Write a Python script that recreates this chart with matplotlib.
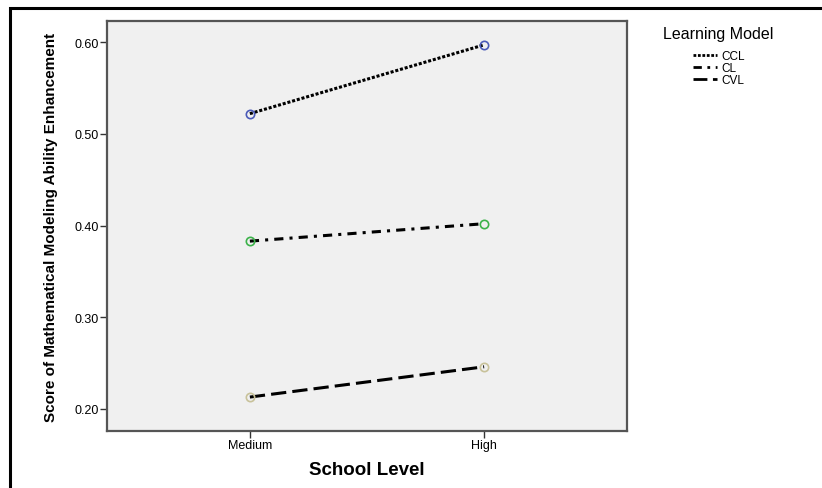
import matplotlib
matplotlib.use("Agg")
import matplotlib.pyplot as plt
from matplotlib.patches import Rectangle
from matplotlib.lines import Line2D

categories = ["Medium", "High"]
models = ["CCL", "CL", "CVL"]
ccl = [0.522, 0.597]
cl = [0.383, 0.402]
cvl = [0.213, 0.246]
yticks = [0.20, 0.30, 0.40, 0.50, 0.60]

series = [ccl, cl, cvl]
styles = [(0, (1, 0.6)), (0, (3, 2, 1, 2)), (0, (5, 2))]
mcolors = ["#4a5ab8", "#3cb24a", "#c8c29a"]

W, H = 822, 489
fig = plt.figure(figsize=(W / 100, H / 100), dpi=100)
fig.patch.set_facecolor("white")

# outer frame
fig.patches.append(Rectangle((10 / W, -0.1), 1.2, 1 - 9 / H + 0.1, transform=fig.transFigure,
                             fill=False, edgecolor="black", lw=2.2, zorder=0))

ax = fig.add_axes([107 / W, 1 - 432 / H, 520 / W, 410 / H])
ax.set_facecolor("#f0f0f0")
x = list(range(len(categories)))
for vals, ls, mc, name in zip(series, styles, mcolors, models):
    ax.plot(x, vals, color="black", lw=2.2, linestyle=ls, zorder=2, label=name)
    ax.plot(x, vals, linestyle="none", marker="o", markersize=6, markerfacecolor="none",
            markeredgecolor=mc, markeredgewidth=1.2, zorder=3)

ax.set_xlim(-0.61, 1.61)
ax.set_ylim(0.176, 0.623)
ax.set_xticks(x)
ax.set_xticklabels(categories, fontsize=9, family="Liberation Sans")
ax.set_yticks(yticks)
ax.set_yticklabels([f"{v:.2f}" for v in yticks], fontsize=9, family="Liberation Sans")
ax.tick_params(length=5, width=1, color="#333333", pad=1)
for s in ax.spines.values():
    s.set_color("#555555")
    s.set_linewidth(1.6)

ax.set_xlabel("School Level", fontsize=13.5, fontweight="bold", family="Liberation Sans", labelpad=7)
ax.set_ylabel("Score of Mathematical Modeling Ability Enhancement", fontsize=11, fontweight="bold",
              family="Liberation Sans", labelpad=12)

fig.text(663 / W, 1 - 34 / H, "Learning Model", fontsize=11.5, family="Liberation Sans",
         va="center", ha="left")
handles = [Line2D([0], [0], color="black", lw=2, linestyle=ls) for ls in styles]
leg = fig.legend(handles, models, loc="upper left",
                 bbox_to_anchor=(687 / W, 1 - 45 / H), frameon=False,
                 prop={"family": "Liberation Sans", "size": 8.5}, handlelength=2.0,
                 handletextpad=0.4, labelspacing=0.0, borderpad=0)

fig.savefig("out.png", dpi=100)
